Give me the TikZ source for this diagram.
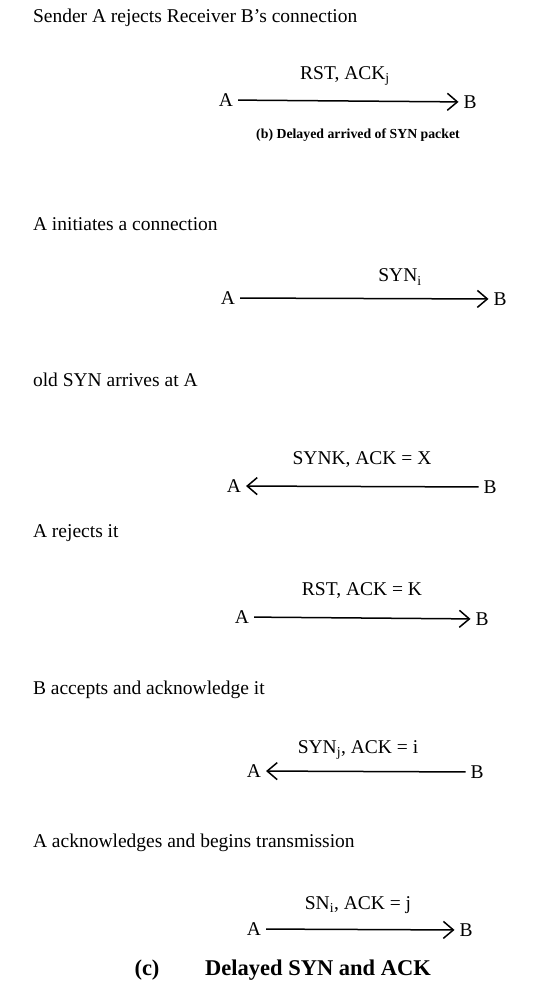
\documentclass[tikz,border=0pt]{standalone}
\usepackage{fontspec}
\setmainfont{Liberation Serif}
\usetikzlibrary{arrows.meta}
\begin{document}
\begin{tikzpicture}[x=1pt,y=-1pt,
  every node/.style={inner sep=0pt,outer sep=2pt},
  desc/.style={anchor=west,font=\fontsize{19.5}{22}\selectfont},
  ep/.style={font=\fontsize{19.5}{22}\selectfont,outer sep=5pt},
  lbl/.style={font=\fontsize{19.5}{22}\selectfont},
  msg/.style={line width=1.5pt,-{Straight Barb[length=10pt,width=17pt,line width=1.5pt]}},
  smallcap/.style={font=\bfseries\fontsize{13.8}{16}\selectfont},
  bigcap/.style={font=\bfseries\fontsize{22.5}{27}\selectfont}]
\useasboundingbox (0,0) rectangle (558,1000);
% 1
\node[desc] (t1) at (31,18) {Sender A rejects Receiver B’s connection};
\node[ep] (a1) at (226,100) {A};
\node[ep] (b1) at (470,102) {B};
\draw[msg] (a1) -- (b1);
\node[lbl] (l1) at (345,76) {RST, ACK\textsubscript{j}};
\node[smallcap] (c1) at (358,135) {(b) Delayed arrived of SYN packet};
% 2
\node[desc] (t2) at (31,224) {A initiates a connection};
\node[ep] (a2) at (228,298) {A};
\node[ep] (b2) at (500,299) {B};
\draw[msg] (a2) -- (b2);
\node[lbl] (l2) at (400,277) {SYN\textsubscript{i}};
% 3
\node[desc] (t3) at (31,380) {old SYN arrives at A};
\node[ep] (a3) at (234,486) {A};
\node[ep] (b3) at (490,487) {B};
\draw[msg] (b3) -- (a3);
\node[lbl] (l3) at (362,460) {SYNK, ACK = X};
% 4
\node[desc] (t4) at (31,533) {A rejects it};
\node[ep] (a4) at (242,617) {A};
\node[ep] (b4) at (482,619) {B};
\draw[msg] (a4) -- (b4);
\node[lbl] (l4) at (362,591) {RST, ACK = K};
% 5
\node[desc] (t5) at (31,690) {B accepts and acknowledge it};
\node[ep] (a5) at (254,771) {A};
\node[ep] (b5) at (477,772) {B};
\draw[msg] (b5) -- (a5);
\node[lbl] (l5) at (358,750) {SYN\textsubscript{j}, ACK = i};
% 6
\node[desc] (t6) at (31,843) {A acknowledges and begins transmission};
\node[ep] (a6) at (254,929) {A};
\node[ep] (b6) at (466,930) {B};
\draw[msg] (a6) -- (b6);
\node[lbl] (l6) at (358,905) {SN\textsubscript{i}, ACK = j};
% caption
\node[bigcap] (c2a) at (147,970) {(c)};
\node[bigcap] (c2b) at (318,970) {Delayed SYN and ACK};
\end{tikzpicture}
\end{document}
